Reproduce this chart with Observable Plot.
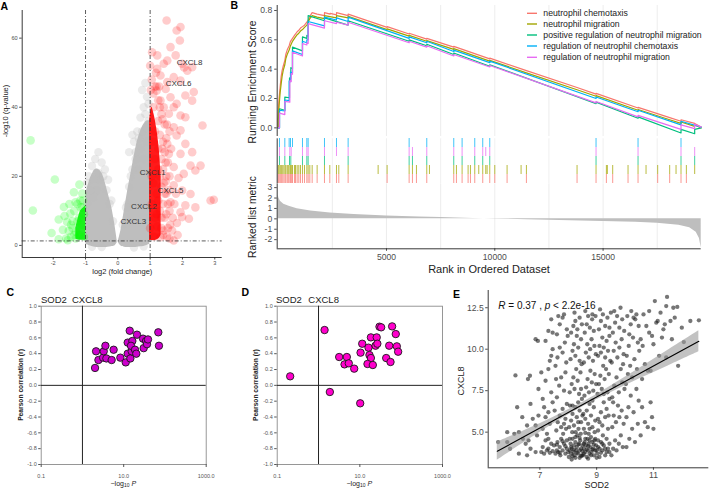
<!DOCTYPE html>
<html><head><meta charset="utf-8">
<script src="https://cdn.jsdelivr.net/npm/d3@7"></script>
<script src="https://cdn.jsdelivr.net/npm/@observablehq/plot@0.6"></script>
<style>
html,body{margin:0;padding:0;background:#fff;}
#root{position:relative;width:709px;height:489px;overflow:hidden;background:#fff;}
.panel{position:absolute;}
.panel svg{display:block;overflow:visible;}
#overlay{position:absolute;left:0;top:0;}
</style></head><body><div id="root"></div>
<script>
const FONT = "'Liberation Sans', Arial, Helvetica, sans-serif";

// ---------------- Panel A: volcano ----------------
const grayLeftX  = [-0.99,-0.9,-0.8,-0.7,-0.6,-0.5,-0.4,-0.3,-0.2,-0.1,-0.02];
const grayLeftHi = [15,18,20.5,22,22,21,18.5,15,11.5,6.5,1.4];
const grayLeftLo = [0.3,0,-0.3,-0.5,-0.6,-0.6,-0.6,-0.5,-0.4,-0.2,0.8];
const grayRightX  = [0.02,0.1,0.2,0.3,0.4,0.5,0.6,0.7,0.8,0.9,0.99];
const grayRightHi = [1.4,4.5,10,15.5,20.5,25.5,30,33,35,36,36];
const grayRightLo = [0.8,-0.2,-0.5,-0.6,-0.6,-0.6,-0.5,-0.4,-0.3,0,0.3];
const redCoreX  = [0.98,1.05,1.12,1.2,1.28,1.34];
const redCoreHi = [36,40,38,34,28,20];
const redCoreLo = [1.4,1.4,1.4,1.6,2,3];
const greenCoreX  = [-1.3,-1.22,-1.15,-1.05,-0.99];
const greenCoreHi = [5,8,10,11,11.5];
const greenCoreLo = [1.8,1.6,1.5,1.5,1.5];
const grayPoints = [[-0.7,25],[-0.6,27],[-0.5,24],[-0.8,23],[-0.9,20],[-0.4,22],[-0.3,19],[-0.65,16],[-0.2,13],[0.5,30],[0.6,33],[0.7,37],[0.8,40],[0.9,43],[0.75,45],[0.85,38],[0.95,36],[0.55,25],[0.4,20],[0.3,12],[0.7,28],[0.9,30],[-0.95,18],[0.85,47],[0.95,41],[0.6,22],[0.8,25],[0.45,32],[-0.55,19],[-0.75,14],[0.35,27],[-0.95,12],[-0.85,16],[-0.75,19],[-0.6,21],[-0.45,20],[-0.35,16],[-0.25,12],[-0.15,7],[0.15,6],[0.25,11],[0.35,17],[0.45,22],[0.55,27],[0.65,31],[0.75,33],[0.9,34],[-0.5,-0.5],[0.5,-0.6],[-0.8,-0.4],[0.8,-0.3]];
const greenPoints = [[-2.7,30.4],[-2.63,10.1],[-1.95,19.1],[-2.05,3.6],[-1.83,1.8],[-1.83,7.5],[-1.67,11.1],[-1.57,6.8],[-1.52,4.2],[-1.36,15.4],[-1.19,17.6],[-1.31,12.5],[-1.47,9.2],[-1.16,13],[-1.1,11],[-1.25,7],[-1.05,9],[-1.45,2.5],[-1.2,3],[-1.6,2],[-1.4,5],[-1.3,2],[-1.1,15],[-1.55,1.5],[-1.65,8.5],[-1.7,4.5],[-1.05,2.5],[-1.12,6],[-1.35,10],[-1.5,12],[-1.3,4],[-1.2,8],[-1.15,11],[-1.4,7],[-1.25,12],[-1.08,13],[-1.35,3],[-1.45,6]];
const redPoints = [[1.51,65.1],[1.94,63.2],[1.82,62.2],[1.92,59.3],[1.63,57.4],[1.06,55.9],[1.22,55],[1.79,55],[1.53,53.5],[1.99,52.6],[2.3,51.6],[2.15,50.6],[2.05,51.5],[1.22,51.1],[1.42,52.6],[1.32,49.2],[1.73,48.7],[1.53,47.3],[1.94,47.7],[1.48,45.3],[2.35,44.4],[1.2,44.8],[1.63,42.9],[2.09,43.4],[2.3,41.9],[1.32,41.9],[1.82,41],[1.42,40],[1.73,40],[1.94,37.6],[2.09,37.1],[1.58,38.1],[2.62,34.7],[1.73,34.2],[1.38,36.5],[1.94,33.3],[1.82,31.8],[1.53,29.4],[2.09,29.4],[1.58,26.5],[2.3,27],[1.94,26.5],[2.56,23.1],[2.25,23.1],[2.4,21.7],[2.04,20.7],[1.73,22.7],[1.88,19.5],[1.73,17.4],[1.99,15.9],[2.25,14.9],[2.87,13.0],[2.97,13.2],[2.09,11.6],[1.63,12.5],[1.94,9.6],[2.2,7.7],[1.99,8.2],[1.83,6.5],[2.4,11],[1.5,9],[1.68,4.3],[1.42,4.3],[1.32,2.4],[1.73,1.4],[1.22,5.5],[1.5,15],[1.8,15],[1.48,18.5],[1.1,30],[1.15,33],[1.25,28],[1.3,32],[1.35,25],[1.4,22],[1.45,27],[1.5,31],[1.55,24],[1.6,20],[1.45,35],[1.35,38],[1.25,42],[1.15,46],[1.05,48],[1.0,52],[1.1,40],[1.6,33],[1.65,28],[1.4,12],[1.45,8],[1.55,5],[1.6,10],[1.35,17],[1.3,20],[1.25,13],[1.2,9],[1.4,3],[1.12,2.5],[1.05,20],[1.15,25],[1.25,36],[1.7,8],[1.75,12],[1.85,3],[1.6,2],[1.0,5],[1.05,12],[1.1,18],[1.15,8],[1.2,15],[1.25,22],[1.3,10],[1.35,5],[1.4,30],[1.45,15],[1.5,20],[1.55,12],[1.38,28],[1.42,18],[1.48,24],[1.52,35],[1.3,40],[1.2,46],[1.1,44],[1.02,45],[1.18,50],[1.28,46],[1.58,16],[1.62,6],[1.52,2.5],[1.35,8]];
const geneNames = ["CXCL8","CXCL6","CXCL1","CXCL5","CXCL2","CXCL3"];
const geneX = [2.22,1.88,1.08,1.63,0.81,0.48];
const geneY = [53,47,21.2,15.9,11.4,7.0];
const volcanoXTicks = [-2,-1,0,1,2,3];
const volcanoYTicks = [0,20,40,60];

// ---------------- Panel B: GSEA ----------------
const setNames = ["neutrophil chemotaxis","neutrophil migration","positive regulation of neutrophil migration","regulation of neutrophil chemotaxis","regulation of neutrophil migration"];
const setColors = ["#F8766D","#A3A500","#00BF7D","#00B0F6","#E76BF3"];
const rugOrder = ["regulation of neutrophil chemotaxis","regulation of neutrophil migration","positive regulation of neutrophil migration","neutrophil migration","neutrophil chemotaxis"];
const esChemotaxis = [[0,0],[0,0.1],[40,0.2],[90,0.28],[137,0.35],[180,0.39],[230,0.42],[306,0.46],[350,0.5],[414,0.53],[506,0.56],[568,0.59],[660,0.61],[752,0.63],[875,0.655],[952,0.665],[1029,0.68],[1121,0.69],[1214,0.7],[1322,0.72],[1383,0.735],[1460,0.76],[1568,0.785],[1798,0.775],[2137,0.765],[2137,0.785],[2400,0.775],[2400,0.78],[2691,0.77],[2691,0.785],[3229,0.765],[3229,0.775],[5029,0.685],[5029,0.69],[6045,0.64],[6045,0.645],[6860,0.605],[6860,0.61],[8106,0.55],[8106,0.555],[9768,0.47],[9768,0.475],[11460,0.39],[13798,0.275],[14675,0.23],[14675,0.235],[16614,0.135],[16614,0.14],[18075,0.07],[18598,0.045],[18598,0.055],[19229,0.03],[19530,0.005]];
const esMigration = [[0,0],[0,0.05],[40,0.15],[90,0.24],[137,0.3],[180,0.35],[230,0.39],[306,0.43],[350,0.47],[414,0.5],[506,0.53],[568,0.56],[660,0.59],[752,0.61],[875,0.635],[952,0.645],[1029,0.66],[1121,0.67],[1214,0.685],[1322,0.7],[1383,0.72],[1460,0.745],[1568,0.765],[1798,0.755],[2137,0.745],[2137,0.765],[2691,0.75],[2691,0.765],[3229,0.75],[3229,0.76],[5029,0.67],[5029,0.675],[6045,0.625],[6045,0.63],[6860,0.59],[6860,0.595],[8106,0.535],[8106,0.54],[9768,0.455],[9768,0.46],[11460,0.375],[13798,0.26],[14675,0.215],[14675,0.22],[16614,0.12],[16614,0.125],[18075,0.055],[18598,0.03],[18598,0.04],[19229,0.01],[19229,0.02],[19530,0]];
const esPosRegMigration = [[0,0],[60,0],[60,0.13],[306,0.12],[306,0.21],[522,0.205],[522,0.34],[583,0.335],[583,0.41],[660,0.405],[660,0.55],[1121,0.525],[1121,0.62],[1322,0.61],[1322,0.63],[1383,0.625],[1383,0.765],[2137,0.73],[2137,0.75],[3229,0.7],[3229,0.73],[6045,0.59],[6045,0.6],[6860,0.56],[6860,0.57],[8106,0.5],[8106,0.51],[9768,0.42],[9768,0.43],[14675,0.165],[14675,0.175],[16614,0.065],[16614,0.075],[18598,-0.035],[18598,-0.01],[19229,-0.04],[19229,-0.01],[19530,0]];
const esRegChemotaxis = [[0,0],[60,0],[60,0.12],[306,0.115],[306,0.19],[506,0.185],[506,0.32],[568,0.315],[568,0.38],[660,0.375],[660,0.525],[1121,0.5],[1121,0.59],[1322,0.58],[1322,0.6],[1383,0.6],[1383,0.725],[2137,0.695],[2137,0.755],[2691,0.735],[2691,0.75],[3229,0.725],[3229,0.755],[6045,0.61],[6045,0.62],[6860,0.58],[6860,0.59],[8106,0.52],[8106,0.53],[9768,0.445],[9768,0.455],[14675,0.2],[14675,0.21],[16614,0.11],[16614,0.12],[18598,0.02],[18598,0.045],[19530,0.005]];
const esRegMigration = [[0,0],[60,0],[60,0.1],[306,0.09],[306,0.18],[537,0.175],[537,0.32],[600,0.315],[600,0.37],[660,0.365],[660,0.515],[1121,0.49],[1121,0.575],[1322,0.565],[1322,0.58],[1383,0.575],[1383,0.71],[2137,0.68],[2137,0.73],[2691,0.71],[2691,0.72],[3229,0.7],[3229,0.72],[6045,0.58],[6045,0.59],[6860,0.55],[6860,0.56],[8106,0.49],[8106,0.5],[9768,0.415],[9768,0.425],[14675,0.17],[14675,0.18],[16614,0.075],[16614,0.085],[18598,-0.01],[18598,0.02],[19229,-0.005],[19229,0.025],[19530,0.005]];
const earlyDense = [0,40,90,137,180,230,306,350,414,460,506,568,620,660,752,800,875,952,1029,1121,1214,1322,1383,1460,1568,1798];
const hitsChemotaxis = earlyDense.concat([2137,2383,2691,2798,3229,5029,6045,6198,6383,6860,8106,8229,8491,8768,8876,9075,9444,9768,10000,10568,11460,13798,14675,15152,15444,16152,16614,17521,18075,18598,18845]);
const hitsMigration = earlyDense.concat([2137,2383,2691,2798,3229,4614,5029,6045,6198,6383,6860,6983,8106,8229,8491,8768,8876,9075,9260,9444,9583,9645,9768,10000,10568,11214,11460,13798,14675,15152,15198,15444,16152,16614,16983,17521,18075,18368,18598,18845,19229]);
const hitsPosRegMigration = [60,306,522,583,1121,1322,1383,2137,3229,6045,6198,6860,8106,8491,9075,9444,9768,14675,16614,18598,19229];
const hitsRegChemotaxis = [60,306,506,568,660,1121,1322,1383,2137,2691,3229,6045,6860,8106,8491,9075,9444,9768,14675,16614,18598];
const hitsRegMigration = [60,306,537,600,1121,1322,1383,2137,2691,3229,6045,6198,6860,8106,8491,9075,9444,9583,9768,14675,16614,18598,19229];
const metricRank  = [0,30,100,260,500,875,1500,2400,3500,5000,6500,7500,9000,10000,11500,12500,14000,15000,16500,17500,18500,19000,19300,19450,19530];
const metricValue = [2.3,2.0,1.7,1.4,1.2,0.98,0.75,0.56,0.42,0.28,0.17,0.12,0.04,-0.01,-0.08,-0.14,-0.2,-0.25,-0.33,-0.43,-0.62,-0.85,-1.3,-1.9,-2.8];
const gridRanks = [2500,5000,7500,10000,12500,15000,17500];
const rankTicks = [5000,10000,15000];
const esTicks = [0,0.2,0.4,0.6,0.8];
const metricTicks = [-2,-1,0,1,2,3];

// ---------------- Panels C, D ----------------
const cLogP = [2.02,2.14,2.44,3.16,3.28,3.6,3.8,5.1,5.7,8.3,11.2,12.5,12.5,14.0,14.5,16.2,15.6,15.0,18.8,20.2,21,29.4,30.5,34.7,36.7,38.8,69,71.6];
const cR    = [0.22,0.43,0.32,0.35,0.43,0.50,0.34,0.32,0.45,0.35,0.29,0.54,0.40,0.69,0.34,0.56,0.43,0.50,0.45,0.40,0.64,0.59,0.47,0.56,0.52,0.58,0.67,0.50];
const dLogP = [0.206,1.40,1.88,3.16,4.84,4.26,5.4,7.3,10.2,10.4,11.4,16.2,17.1,18.5,15.3,20.6,18.5,24,25.6,26.5,29.9,32.8,43.4,51.3,55.2,60.4,74,78.5,84.4];
const dR    = [0.114,0.699,-0.084,0.358,0.358,0.265,0.278,0.211,-0.227,0.413,0.526,0.476,0.383,0.345,0.27,0.257,0.606,0.501,0.606,0.526,0.741,0.733,0.345,0.501,0.295,0.745,0.648,0.493,0.425];
const corrXTicks = [0.1,10,1000];
const corrYTicks = [-1,-0.8,-0.6,-0.4,-0.2,0,0.2,0.4,0.6,0.8,1];

// ---------------- Panel E ----------------
const ePoints = [[5.53,4.4],[5.85,4.4],[5.85,5.0],[5.95,4.0],[6.14,8.42],[6.26,5.0],[6.26,3.7],[6.2,6.5],[6.38,5.9],[6.58,8.2],[6.65,8.4],[6.55,5.4],[6.5,4.3],[6.67,4.0],[6.67,6.7],[6.85,10.6],[6.93,10.5],[6.85,5.4],[6.9,4.8],[6.85,3.8],[6.6,4.5],[6.4,4.6],[6.95,6.0],[6.95,7.6],[6.75,5.8],[6.55,3.6],[6.1,4.9],
[7.05,3.8],[7.1,4.1],[7.15,3.7],[7.2,4.5],[7.25,3.9],[7.3,4.0],[7.35,3.75],[7.4,4.3],[7.45,3.85],[7.1,5.2],[7.2,5.9],[7.3,6.2],[7.35,5.5],[7.45,6.8],[7.1,7.0],[7.2,8.1],[7.3,8.8],[7.35,9.3],[7.4,9.6],[7.45,10.0],[7.2,10.5],[7.3,11.1],[7.4,11.8],[7.45,11.0],[7.05,8.6],[7.15,6.5],[7.4,7.4],[7.25,4.9],[7.3,4.6],[7.5,4.2],
[7.55,3.7],[7.6,3.9],[7.62,4.4],[7.65,3.8],[7.7,4.1],[7.72,3.6],[7.75,4.6],[7.8,3.9],[7.85,4.3],[7.9,3.7],[7.95,4.0],[7.58,5.1],[7.63,5.6],[7.7,6.0],[7.75,5.3],[7.8,6.4],[7.9,5.8],[7.95,6.7],[7.6,7.1],[7.68,7.8],[7.75,8.3],[7.85,7.5],[7.9,8.6],[7.55,9.0],[7.62,9.5],[7.7,10.1],[7.8,9.8],[7.88,10.4],[7.93,9.2],[7.6,10.9],[7.7,11.5],[7.8,11.9],[7.95,11.2],[7.65,12.0],[7.85,12.1],[7.98,10.8],[7.52,6.3],[7.82,4.9],[7.92,5.2],[7.57,8.2],
[8.02,3.5],[8.05,3.9],[8.08,4.3],[8.1,3.7],[8.12,4.0],[8.15,4.6],[8.18,3.8],[8.2,4.2],[8.22,3.6],[8.25,4.4],[8.28,3.9],[8.3,4.1],[8.32,4.8],[8.35,3.7],[8.38,4.3],[8.4,3.9],[8.42,4.5],[8.45,4.0],[8.48,3.6],[8.5,4.2],[8.03,5.3],[8.1,5.7],[8.15,6.1],[8.2,5.4],[8.25,6.5],[8.3,5.9],[8.35,6.8],[8.4,6.3],[8.45,5.6],[8.48,7.0],[8.05,7.4],[8.12,7.9],[8.18,8.3],[8.22,7.6],[8.28,8.8],[8.33,8.1],[8.38,7.3],[8.43,8.6],[8.47,9.1],[8.08,9.4],[8.15,9.9],[8.2,10.3],[8.25,9.6],[8.3,10.8],[8.35,10.1],[8.4,9.3],[8.45,10.6],[8.1,11.0],[8.18,11.4],[8.25,11.7],[8.32,11.2],[8.4,11.9],[8.48,11.5],[8.22,12.2],[8.06,6.6],[8.36,5.2],[8.44,4.9],[8.14,5.0],[8.26,5.0],[8.5,6.0],
[8.52,3.6],[8.55,4.0],[8.58,4.4],[8.6,3.8],[8.62,4.2],[8.65,3.5],[8.68,4.6],[8.7,3.9],[8.72,4.3],[8.75,3.7],[8.78,4.1],[8.8,4.7],[8.82,3.8],[8.85,4.4],[8.88,4.0],[8.9,3.6],[8.92,4.5],[8.95,3.9],[8.98,4.2],[8.55,5.2],[8.6,5.8],[8.65,6.3],[8.7,5.5],[8.75,6.7],[8.8,6.0],[8.85,5.3],[8.9,6.5],[8.95,5.7],[8.57,7.2],[8.63,7.7],[8.68,8.2],[8.73,7.4],[8.78,8.7],[8.83,8.0],[8.88,7.5],[8.93,8.5],[8.98,7.9],[8.55,9.2],[8.62,9.8],[8.67,10.3],[8.72,9.5],[8.77,10.0],[8.82,10.6],[8.87,9.3],[8.92,10.2],[8.97,9.7],[8.58,11.0],[8.65,11.5],[8.7,12.0],[8.76,11.3],[8.84,11.8],[8.9,11.1],[8.96,12.0],[8.6,12.3],[8.85,12.1],[8.53,6.1],[8.72,4.9],[8.93,5.0],
[9.02,3.7],[9.05,4.1],[9.1,3.5],[9.15,4.4],[9.2,3.9],[9.25,4.2],[9.3,3.6],[9.35,4.6],[9.4,4.0],[9.45,3.8],[9.05,5.1],[9.1,5.6],[9.15,6.2],[9.2,5.4],[9.25,6.8],[9.3,5.9],[9.35,6.4],[9.4,5.2],[9.45,7.0],[9.03,7.3],[9.08,7.9],[9.13,8.4],[9.18,7.6],[9.23,9.0],[9.28,8.2],[9.33,8.8],[9.38,7.4],[9.43,8.5],[9.48,9.3],[9.05,9.6],[9.1,10.2],[9.15,9.8],[9.2,10.7],[9.25,10.1],[9.3,9.5],[9.35,10.5],[9.4,9.9],[9.45,10.8],[9.08,11.2],[9.15,11.7],[9.22,12.1],[9.3,11.4],[9.38,11.9],[9.45,11.3],[9.5,12.2],[9.12,12.4],[9.42,6.0],[9.22,4.8],
[9.52,3.6],[9.58,4.0],[9.65,4.5],[9.7,3.9],[9.78,4.3],[9.85,4.8],[9.92,4.1],[9.55,5.3],[9.6,6.0],[9.68,5.6],[9.75,6.6],[9.8,5.9],[9.88,6.3],[9.95,5.5],[9.55,7.1],[9.62,7.8],[9.7,8.3],[9.78,7.4],[9.85,8.8],[9.9,8.0],[9.98,7.6],[9.53,9.2],[9.6,9.9],[9.67,10.4],[9.73,9.5],[9.8,10.1],[9.88,10.6],[9.95,9.7],[9.57,11.0],[9.65,11.6],[9.72,12.0],[9.8,11.3],[9.9,11.8],[9.97,11.1],[9.62,12.3],[9.84,12.5],[9.58,6.8],[9.93,9.1],
[10.05,4.1],[10.15,4.6],[10.25,5.2],[10.35,4.4],[10.45,5.5],[10.05,5.9],[10.12,6.5],[10.2,7.2],[10.3,6.2],[10.4,7.6],[10.48,6.9],[10.03,7.9],[10.1,8.5],[10.18,9.0],[10.25,8.3],[10.33,9.4],[10.42,8.8],[10.5,9.9],[10.06,9.6],[10.13,10.2],[10.2,11.5],[10.28,10.7],[10.36,11.8],[10.45,10.4],[10.08,12.0],[10.22,12.3],[10.4,12.1],[10.15,10.9],[10.3,11.9],[10.48,11.4],
[10.55,4.8],[10.6,6.5],[10.7,5.6],[10.8,5.3],[10.9,6.8],[10.6,8.2],[10.7,9.1],[10.8,8.7],[10.95,5.9],[10.55,10.6],[10.65,12.1],[10.75,11.4],[10.85,12.3],[10.95,10.8],[11.05,12.9],[11.15,11.7],[11.25,12.2],[11.3,10.7],[11.4,11.5],[11.45,12.6],[10.9,8.7],[11.0,10.3],[11.2,9.6],[11.35,11.2],[10.85,11.0],[10.62,10.2],[11.1,11.6],[11.0,5.2],[11.45,9.5],
[11.48,13.15],[11.6,11.7],[11.7,12.5],[11.87,9.0],[11.84,12.55],[12.07,10.43],[12.3,11.7],[12.6,11.74],[11.65,10.6],[11.75,11.9],[12.0,11.3],
[7.6,4.25],[7.7,3.75],[7.8,4.45],[7.9,4.15],[8.0,3.8],[8.05,4.6],[8.1,4.1],[8.15,3.55],[8.2,3.95],[8.25,4.7],[8.3,3.75],[8.35,4.25],[8.4,4.65],[8.45,3.55],[8.5,3.85],[8.55,4.3],[8.6,4.6],[8.65,3.95],[8.7,4.15],[8.75,4.5],[8.8,3.6],[8.85,3.95],[8.9,4.25],[8.95,4.6],[9.0,3.9],[9.05,4.5],[9.1,4.0],[9.15,3.75],[9.2,4.3],[9.3,4.0],[9.35,3.8],[9.45,4.3],[8.12,3.35],[8.4,3.45],[8.7,3.4],[9.0,3.45],[7.95,4.5],[8.55,3.7],[8.25,3.45],[8.6,4.95],[8.35,5.6],[8.75,5.2],[9.05,5.8],[7.85,5.5],[8.15,6.6],[8.45,7.6],[8.85,6.9],[9.25,7.3]];
const fitX  = [5.5,6.5,7.5,8.5,9.5,10.5,11.5,12.6];
const fitY  = [3.85,4.78,5.72,6.65,7.58,8.52,9.45,10.48];
const fitLo = [3.30,4.43,5.52,6.52,7.38,8.20,8.98,9.85];
const fitHi = [4.40,5.13,5.92,6.78,7.78,8.84,9.92,11.11];
const eXTicks = [7,9,11];
const eYTicks = [5,7.5,10,12.5];

// ---------------- build ----------------
const root = document.getElementById("root");
function place(el, left, top, w, h) {
  const d = document.createElement("div");
  d.className = "panel";
  Object.assign(d.style, {left: left + "px", top: top + "px", width: w + "px", height: h + "px"});
  d.appendChild(el); root.appendChild(d);
}
const baseStyle = (size, color) => ({fontFamily: FONT, fontSize: size, color, background: "transparent", overflow: "visible"});
const toXY = (xs, lo, hi) => xs.map((x, i) => ({x, lo: lo[i], hi: hi[i]}));
const pts = a => a.map(([x, y]) => ({x, y}));

// A
const plotA = Plot.plot({
  width: 230, height: 285, marginLeft: 21.7, marginRight: 8.3, marginTop: 10, marginBottom: 28,
  style: baseStyle("5.6px", "#4d4d4d"),
  x: {domain: [-2.96, 3.23]}, y: {domain: [-3.5, 68]},
  marks: [
    Plot.areaY(toXY(grayLeftX, grayLeftLo, grayLeftHi), {x: "x", y1: "lo", y2: "hi", fill: "#bebebe", curve: "catmull-rom"}),
    Plot.areaY(toXY(grayRightX, grayRightLo, grayRightHi), {x: "x", y1: "lo", y2: "hi", fill: "#bebebe", curve: "catmull-rom"}),
    Plot.dot(pts(grayPoints), {x: "x", y: "y", r: 4.2, fill: "#bebebe", fillOpacity: 0.3}),
    Plot.areaY(toXY(greenCoreX, greenCoreLo, greenCoreHi), {x: "x", y1: "lo", y2: "hi", fill: "#22ee22", curve: "catmull-rom"}),
    Plot.dot(pts(greenPoints), {x: "x", y: "y", r: 4.3, fill: "#00ff00", fillOpacity: 0.22}),
    Plot.areaY(toXY(redCoreX, redCoreLo, redCoreHi), {x: "x", y1: "lo", y2: "hi", fill: "#ff1a1a", curve: "catmull-rom"}),
    Plot.dot(pts(redPoints), {x: "x", y: "y", r: 4.3, fill: "#ff0000", fillOpacity: 0.2}),
    Plot.ruleX([-1, 1], {stroke: "#333", strokeWidth: 0.8, strokeDasharray: "4,2,1,2"}),
    Plot.ruleY([1.3], {stroke: "#333", strokeWidth: 0.8, strokeDasharray: "4,2,1,2"}),
    Plot.text(geneNames, {x: (d, i) => geneX[i], y: (d, i) => geneY[i], text: d => d, fontSize: 8, fill: "#333"}),
    Plot.axisX({ticks: volcanoXTicks, tickFormat: d => String(d), tickSize: 2.5, tickPadding: 1.5, label: null}),
    Plot.axisY({ticks: volcanoYTicks, tickFormat: d => String(d), tickSize: 2.5, tickPadding: 2, label: null}),
    Plot.ruleX([-2.96], {stroke: "#222", strokeWidth: 0.9}),
    Plot.ruleY([-3.5], {stroke: "#222", strokeWidth: 0.9})
  ]
});
place(plotA, 0, 0, 230, 285);

// B top
const esSeries = [esChemotaxis, esMigration, esPosRegMigration, esRegChemotaxis, esRegMigration];
const esData = esSeries.flatMap((s, k) => s.map(([rank, es]) => ({rank, es, set: setNames[k]})));
const colorScale = {domain: setNames, range: setColors};
const xB = [-46, 19530];
const plotBtop = Plot.plot({
  width: 479, height: 137, marginLeft: 46.7, marginRight: 8.3, marginTop: 5, marginBottom: 1,
  style: baseStyle("8.6px", "#4d4d4d"),
  x: {domain: xB, axis: null}, y: {domain: [-0.059, 0.834]}, color: colorScale,
  marks: [
    Plot.ruleX(gridRanks, {stroke: "#e8e8e8", strokeWidth: 0.8}),
    Plot.line(esData, {x: "rank", y: "es", stroke: "set", z: "set", strokeWidth: 1.2}),
    Plot.axisY({ticks: esTicks, tickFormat: d3.format(".1f"), tickSize: 2.5, tickPadding: 2.5, label: null}),
    Plot.ruleX([xB[0]], {stroke: "#222", strokeWidth: 0.9})
  ]
});
place(plotBtop, 230, 0, 479, 137);

// B rug
const hitSeries = [hitsChemotaxis, hitsMigration, hitsPosRegMigration, hitsRegChemotaxis, hitsRegMigration];
const hitData = hitSeries.flatMap((s, k) => s.map(rank => ({rank, set: setNames[k]})));
const plotBrug = Plot.plot({
  width: 479, height: 47, marginLeft: 46.7, marginRight: 8.3, marginTop: 1.3, marginBottom: 0.7,
  style: baseStyle("8.5px", "#4d4d4d"),
  x: {domain: xB, axis: null}, y: {type: "band", domain: rugOrder, padding: 0, axis: null}, color: colorScale,
  marks: [
    Plot.ruleX(gridRanks, {stroke: "#ececec", strokeWidth: 0.8}),
    Plot.tickX(hitData, {x: "rank", y: "set", stroke: "set", strokeWidth: 1, strokeOpacity: 0.75}),
    Plot.ruleX([xB[0]], {stroke: "#222", strokeWidth: 0.9})
  ]
});
place(plotBrug, 230, 137, 479, 47);

// B bottom
const metricData = metricRank.map((rank, i) => ({rank, value: metricValue[i]}));
const plotBbot = Plot.plot({
  width: 479, height: 106, marginLeft: 46.7, marginRight: 8.3, marginTop: 0.5, marginBottom: 40.7,
  style: baseStyle("8.6px", "#4d4d4d"),
  x: {domain: xB}, y: {domain: [-2.88, 3.35]},
  marks: [
    Plot.ruleX(gridRanks, {stroke: "#e8e8e8", strokeWidth: 0.8}),
    Plot.areaY(metricData, {x: "rank", y: "value", fill: "#bebebe"}),
    Plot.axisX({ticks: rankTicks, tickFormat: d3.format("d"), tickSize: 2.5, tickPadding: 2.5, label: null}),
    Plot.axisY({ticks: metricTicks, tickFormat: d => String(d), tickSize: 2.5, tickPadding: 2.5, label: null}),
    Plot.ruleX([xB[0]], {stroke: "#222", strokeWidth: 0.9}),
    Plot.ruleY([-2.88], {stroke: "#222", strokeWidth: 0.9})
  ]
});
place(plotBbot, 230, 183, 479, 106);

// C, D
function corrPlot(xs, rs, fill, mL, mR) {
  const data = xs.map((x, i) => ({x, r: rs[i]}));
  return Plot.plot({
    width: 225, height: 204, marginLeft: mL, marginRight: mR, marginTop: 20.7, marginBottom: 25,
    style: baseStyle("5.5px", "#555"),
    x: {type: "log", domain: [0.1, 1000]}, y: {domain: [-1, 1]},
    marks: [
      Plot.frame({stroke: "#8c8c8c", strokeWidth: 0.9}),
      Plot.ruleY([0], {stroke: "#222", strokeWidth: 1}),
      Plot.ruleX([1], {stroke: "#222", strokeWidth: 1}),
      Plot.dot(data, {x: "x", y: "r", r: 3.7, fill, stroke: "#1a1a1a", strokeWidth: 0.9}),
      Plot.axisX({ticks: corrXTicks, tickFormat: d3.format(".1f"), tickSize: 3, tickPadding: 7, label: null}),
      Plot.axisY({ticks: corrYTicks, tickFormat: d => d.toFixed(1), tickSize: 2.5, tickPadding: 2, label: null})
    ]
  });
}
place(corrPlot(cLogP, cR, "#cc00cc", 40.7, 19.3), 0, 285, 225, 204);
place(corrPlot(dLogP, dR, "#ff00cc", 51.7, 8), 225, 285, 225, 204);

// E
const eData = pts(ePoints);
const fitData = fitX.map((x, i) => ({x, y: fitY[i], lo: fitLo[i], hi: fitHi[i]}));
const plotE = Plot.plot({
  width: 259, height: 204, marginLeft: 37.7, marginRight: 0.7, marginTop: 5, marginBottom: 21.7,
  style: baseStyle("8.6px", "#4d4d4d"),
  x: {domain: [5.18, 12.95]}, y: {domain: [2.85, 13.54]},
  marks: [
    Plot.dot(eData, {x: "x", y: "y", r: 2.15, fill: "#1a1a1a", fillOpacity: 0.6}),
    Plot.areaY(fitData, {x: "x", y1: "lo", y2: "hi", fill: "#999", fillOpacity: 0.6, curve: "catmull-rom"}),
    Plot.line(fitData, {x: "x", y: "y", stroke: "#000", strokeWidth: 1.1}),
    Plot.axisX({ticks: eXTicks, tickFormat: d => String(d), tickSize: 2.5, tickPadding: 2, label: null}),
    Plot.axisY({ticks: eYTicks, tickFormat: d3.format(".1f"), tickSize: 2.5, tickPadding: 2, label: null}),
    Plot.ruleX([5.18], {stroke: "#222", strokeWidth: 0.9}),
    Plot.ruleY([2.85], {stroke: "#222", strokeWidth: 0.9})
  ]
});
place(plotE, 450, 285, 259, 204);

// ---------------- overlay text ----------------
const ov = d3.create("svg").attr("id", "overlay").attr("width", 709).attr("height", 489)
  .attr("font-family", FONT).style("overflow", "visible");
function txt(x, y, html, o = {}) {
  const t = ov.append("text").attr("x", x).attr("y", y)
    .attr("font-size", o.size || 10).attr("fill", o.fill || "#1a1a1a")
    .attr("text-anchor", o.anchor || "start").html(html);
  if (o.bold) t.attr("font-weight", "bold");
  if (o.rot) t.attr("transform", `rotate(-90 ${x} ${y})`);
  return t;
}
// panel letters
txt(0.5, 9.5, "A", {size: 10.5, bold: true, fill: "#000"});
txt(230.5, 9, "B", {size: 10.5, bold: true, fill: "#000"});
txt(6.5, 296, "C", {size: 10.5, bold: true, fill: "#000"});
txt(241.5, 296, "D", {size: 10.5, bold: true, fill: "#000"});
txt(453, 297.5, "E", {size: 10.5, bold: true, fill: "#000"});
// A
txt(122.3, 274, "log2 (fold change)", {size: 7.5, anchor: "middle", fill: "#222"});
txt(8.3, 111, "-log10 (q-value)", {size: 7.5, anchor: "middle", rot: true, fill: "#222"});
// B
txt(255.5, 82, "Running Enrichment Score", {size: 10.3, anchor: "middle", rot: true, fill: "#222"});
txt(255.5, 217, "Ranked list metric", {size: 10.3, anchor: "middle", rot: true, fill: "#222"});
txt(489, 273, "Rank in Ordered Dataset", {size: 11, anchor: "middle", fill: "#222"});
const legY = [13.3, 24, 35, 46, 57.3];
setNames.forEach((n, i) => {
  ov.append("line").attr("x1", 527).attr("x2", 537).attr("y1", legY[i]).attr("y2", legY[i])
    .attr("stroke", setColors[i]).attr("stroke-width", 1.4);
  txt(543.3, legY[i] + 3, n, {size: 8.7, fill: "#222"});
});
// C, D
[[0, 41, 72], [225, 276, 308.3]].forEach(([off, s1, s2], k) => {
  txt(s1, 303, "SOD2", {size: 9.5, fill: "#222"});
  txt(s2, 303, "CXCL8", {size: 9.5, fill: "#222"});
  const cx = k === 0 ? 123.3 : 359.3;
  txt(cx, 485.5, "\u2212log<tspan font-size='5' dy='1.8'>10</tspan><tspan dy='-1.8'> </tspan><tspan font-style='italic'>P</tspan>", {size: 7, anchor: "middle", fill: "#222"});
  const yx = k === 0 ? 22.5 : 257.5;
  txt(yx, 385, "Pearson correlation (r)", {size: 6.7, anchor: "middle", rot: true, bold: true, fill: "#222"});
});
// E
txt(498.3, 309, "<tspan font-style='italic'>R</tspan> = 0.37 , <tspan font-style='italic'>p</tspan> &lt; 2.2e-16", {size: 10, fill: "#111"});
txt(464, 381, "CXCL8", {size: 9, anchor: "middle", rot: true, fill: "#222"});
txt(596.7, 488, "SOD2", {size: 9, anchor: "middle", fill: "#222"});
root.appendChild(ov.node());
</script></body></html>
